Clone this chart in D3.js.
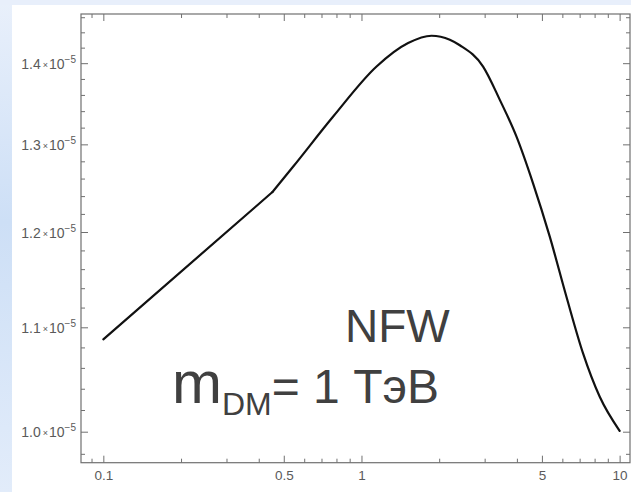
<!DOCTYPE html>
<html><head><meta charset="utf-8">
<script src="https://cdn.jsdelivr.net/npm/d3@7"></script>
<style>
html,body{margin:0;padding:0;background:#fff;}
svg{display:block;}
</style></head>
<body>
<svg id="chart" width="631" height="492"></svg>
<script>
// ---- data ----
const energies = [0.1, 0.452, 0.544, 0.777, 1.144, 1.516, 1.868, 2.199, 2.404, 2.959, 3.435, 3.986, 4.62, 5.363, 6.223, 7.218, 8.375, 10.0];
const fluxValues = [1.088e-5, 1.2446e-5, 1.2739e-5, 1.3334e-5, 1.3957e-5, 1.4259e-5, 1.4355e-5, 1.4303e-5, 1.4231e-5, 1.3957e-5, 1.3539e-5, 1.3092e-5, 1.2546e-5, 1.1949e-5, 1.1311e-5, 1.0741e-5, 1.0324e-5, 1.0008e-5];
const xMajorTicks = [0.1, 0.5, 1, 5, 10];
const xMajorLabels = ["0.1", "0.5", "1", "5", "10"];
const xMinorTicks = [0.09, 0.2, 0.3, 0.4, 0.6, 0.7, 0.8, 0.9, 2, 3, 4, 6, 7, 8, 9];
const yMajorTicks = [1.0e-5, 1.1e-5, 1.2e-5, 1.3e-5, 1.4e-5];
const yMajorMantissa = ["1.0", "1.1", "1.2", "1.3", "1.4"];
const yMinorTicks = [0.98e-5, 1.02e-5, 1.04e-5, 1.06e-5, 1.08e-5, 1.12e-5, 1.14e-5, 1.16e-5, 1.18e-5, 1.22e-5, 1.24e-5, 1.26e-5, 1.28e-5, 1.32e-5, 1.34e-5, 1.36e-5, 1.38e-5, 1.42e-5, 1.44e-5, 1.46e-5];
const labelName = "NFW";

const svg = d3.select("#chart");
const W = 631, H = 492;

// slide-like background
const defs = svg.append("defs");
const g1 = defs.append("linearGradient").attr("id","bgLeft").attr("x1",0).attr("y1",0).attr("x2",0).attr("y2",1);
g1.append("stop").attr("offset","0%").attr("stop-color","#e9f0fb");
g1.append("stop").attr("offset","45%").attr("stop-color","#cddff6");
g1.append("stop").attr("offset","100%").attr("stop-color","#e2ecfa");
svg.append("rect").attr("x",0).attr("y",0).attr("width",W).attr("height",H).attr("fill","url(#bgLeft)");
svg.append("rect").attr("x",0).attr("y",0).attr("width",W).attr("height",5).attr("fill","#e8effb");
svg.append("rect").attr("x",12).attr("y",5).attr("width",W-12).attr("height",H-5).attr("fill","#ffffff");

const L = 81, R = 630, T = 14, B = 462.7;
const x = d3.scaleLog().domain([0.08194, 10.97]).range([L, R]);
const y = d3.scaleLog().domain([0.97209e-5, 1.4643e-5]).range([B, T]);

const axisColor = "#707070";
const fontFam = "'Liberation Sans', Arial, sans-serif";

function styleAxis(g){
  g.select(".domain").remove();
  g.selectAll(".tick line").attr("stroke", axisColor).attr("stroke-width",1);
  g.selectAll("text").attr("fill","#5a5a5a").attr("font-family",fontFam);
}

// bottom axis (ticks inward)
svg.append("g").attr("transform",`translate(0,${B})`)
  .call(d3.axisBottom(x).tickValues(xMinorTicks).tickSize(-4).tickFormat(""))
  .call(styleAxis);
const xb = svg.append("g").attr("transform",`translate(0,${B})`)
  .call(d3.axisBottom(x).tickValues(xMajorTicks).tickSize(-7).tickPadding(12)
     .tickFormat((d,i)=>xMajorLabels[i]))
  .call(styleAxis);
xb.selectAll("text").attr("font-size","13.5px").attr("dy","0.71em").attr("y",8);

// top axis
svg.append("g").attr("transform",`translate(0,${T})`)
  .call(d3.axisTop(x).tickValues(xMinorTicks).tickSize(-4).tickFormat(""))
  .call(styleAxis);
svg.append("g").attr("transform",`translate(0,${T})`)
  .call(d3.axisTop(x).tickValues(xMajorTicks).tickSize(-7).tickFormat(""))
  .call(styleAxis);

// left axis
svg.append("g").attr("transform",`translate(${L},0)`)
  .call(d3.axisLeft(y).tickValues(yMinorTicks).tickSize(-4).tickFormat(""))
  .call(styleAxis);
const yl = svg.append("g").attr("transform",`translate(${L},0)`)
  .call(d3.axisLeft(y).tickValues(yMajorTicks).tickSize(-7).tickFormat(""))
  .call(styleAxis);
yl.selectAll(".tick").each(function(d,i){
  const t = d3.select(this).append("text")
    .attr("x",-5).attr("y",5).attr("text-anchor","end")
    .attr("fill","#5a5a5a").attr("font-family",fontFam).attr("font-size","14px");
  t.append("tspan").text(yMajorMantissa[i]);
  t.append("tspan").attr("font-size","9px").attr("dx","2").attr("dy","-1").text("×");
  t.append("tspan").attr("font-size","14px").attr("dx","1").attr("dy","1").text("10");
  t.append("tspan").attr("font-size","10px").attr("dy","-6").text("−5");
});

// right axis
svg.append("g").attr("transform",`translate(${R},0)`)
  .call(d3.axisRight(y).tickValues(yMinorTicks).tickSize(-4).tickFormat(""))
  .call(styleAxis);
svg.append("g").attr("transform",`translate(${R},0)`)
  .call(d3.axisRight(y).tickValues(yMajorTicks).tickSize(-7).tickFormat(""))
  .call(styleAxis);

// frame
svg.append("rect").attr("x",L).attr("y",T).attr("width",R-L).attr("height",B-T)
  .attr("fill","none").attr("stroke",axisColor).attr("stroke-width",1.2);

// curve: straight power-law rise, then smooth hump
const pts = energies.map((e,i)=>[e, fluxValues[i]]);
const lineLin = d3.line().x(d=>x(d[0])).y(d=>y(d[1])).curve(d3.curveLinear);
const lineSmooth = d3.line().x(d=>x(d[0])).y(d=>y(d[1])).curve(d3.curveMonotoneX);
const curveStyle = p => p.attr("fill","none").attr("stroke","#111").attr("stroke-width",2.2)
  .attr("stroke-linejoin","round").attr("stroke-linecap","round");
svg.append("path").datum(pts.slice(0,2)).attr("d", lineLin).call(curveStyle);
svg.append("path").datum(pts.slice(1)).attr("d", lineSmooth).call(curveStyle);

// annotation text
svg.append("text").attr("x",345).attr("y",341.7)
  .attr("font-family",fontFam).attr("font-size","46px").attr("fill","#404040")
  .text(labelName);
const m = svg.append("text").attr("x",172).attr("y",402.7)
  .attr("font-family",fontFam).attr("font-size","48px").attr("fill","#404040");
m.append("tspan").attr("font-size","60px").text("m");
m.append("tspan").attr("font-size","32px").attr("dy","12").text("DM");
m.append("tspan").attr("dy","-12").text("= 1 ТэВ");
</script>
</body></html>
